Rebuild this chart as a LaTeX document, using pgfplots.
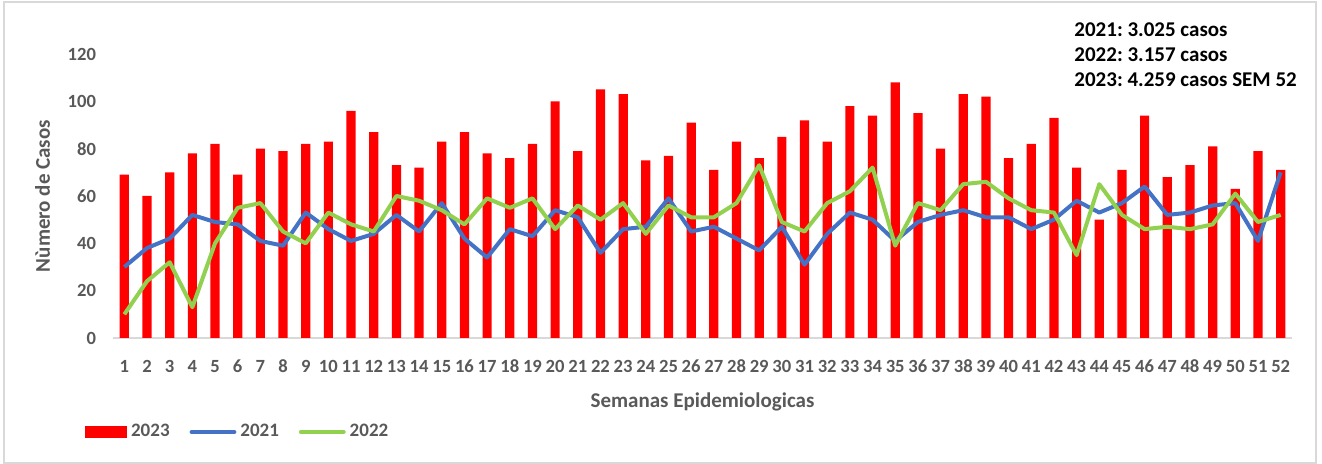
\documentclass[border=0pt]{standalone}
\usepackage{pgfplots}
\usepackage{pgfplotstable}
\pgfplotsset{compat=1.18}
\usepackage{fontspec}
\setmainfont{Carlito}
\frenchspacing
\definecolor{cRed}{HTML}{FF0000}
\definecolor{cBlue}{HTML}{4472C4}
\definecolor{cGreen}{HTML}{92D050}
\definecolor{cText}{HTML}{595959}
\definecolor{cAxis}{HTML}{D9D9D9}
\definecolor{cBorder}{HTML}{D9D9D9}

\pgfplotstableread{
w v
1 69
2 60
3 70
4 78
5 82
6 69
7 80
8 79
9 82
10 83
11 96
12 87
13 73
14 72
15 83
16 87
17 78
18 76
19 82
20 100
21 79
22 105
23 103
24 75
25 77
26 91
27 71
28 83
29 76
30 85
31 92
32 83
33 98
34 94
35 108
36 95
37 80
38 103
39 102
40 76
41 82
42 93
43 72
44 50
45 71
46 94
47 68
48 73
49 81
50 63
51 79
52 71
}\dataA

\pgfplotstableread{
w v
1 30
2 38
3 42
4 52
5 49
6 48
7 41
8 39
9 53
10 46
11 41
12 44
13 52
14 45
15 57
16 42
17 34
18 46
19 43
20 54
21 51
22 36
23 46
24 47
25 59
26 45
27 47
28 42
29 37
30 47
31 31
32 44
33 53
34 50
35 41
36 49
37 52
38 54
39 51
40 51
41 46
42 50
43 58
44 53
45 57
46 64
47 52
48 53
49 56
50 57
51 41
52 70
}\dataB

\pgfplotstableread{
w v
1 10
2 24
3 32
4 13
5 40
6 55
7 57
8 45
9 40
10 53
11 48
12 45
13 60
14 58
15 54
16 48
17 59
18 55
19 59
20 46
21 56
22 50
23 57
24 44
25 56
26 51
27 51
28 57
29 73
30 49
31 45
32 57
33 62
34 72
35 39
36 57
37 54
38 65
39 66
40 59
41 54
42 53
43 35
44 65
45 52
46 46
47 47
48 46
49 48
50 61
51 49
52 52
}\dataC

\begin{document}
\begin{tikzpicture}
\fill[white] (0,0) rectangle (661pt,232pt);
\draw[cBorder, line width=0.8pt] (2pt,0.5pt) rectangle (658pt,231pt);
\begin{axis}[
  at={(56.5pt,63pt)}, anchor=south west,
  scale only axis,
  width=589.5pt, height=142pt,
  xmin=0.5, xmax=52.5,
  ymin=0, ymax=120,
  xtick={1,...,52},
  ytick={0,20,...,120},
  axis x line*=bottom,
  axis y line*=left,
  x axis line style={cAxis, line width=0.8pt, -},
  y axis line style={draw=none},
  xtick style={draw=none},
  ytick style={draw=none},
  /pgf/number format/assume math mode=true,
  tick label style={font=\bfseries\fontsize{9.3}{11}\selectfont, text=cText},
  xticklabel style={yshift=-7.5pt},
  yticklabel style={xshift=-5pt},
  xlabel={Semanas Epidemiologicas},
  ylabel={Nùmero de Casos},
  label style={font=\bfseries\fontsize{10.5}{12}\selectfont, text=cText},
  xlabel style={yshift=-3pt},
  ylabel style={yshift=2pt},
  legend style={at={(-0.024,-0.331)}, anchor=west, legend columns=3,
    draw=none, fill=none, inner xsep=0pt, font=\bfseries\fontsize{9.5}{12}\selectfont, text=cText,
    /tikz/every even column/.append style={column sep=8pt}},
  legend cell align=left,
]
\addplot[ybar, bar width=4.6pt, fill=cRed, draw=none,
  legend image code/.code={\fill[cRed] (0pt,-3pt) rectangle (21pt,3pt);}]
  table[x=w,y=v]{\dataA};
\addlegendentry{2023}
\addplot[cBlue, line width=2pt, line join=round, mark=none,
  legend image code/.code={\draw[cBlue, line width=2.2pt, line cap=round] (0.8pt,0pt) -- (22pt,0pt);}]
  table[x=w,y=v]{\dataB};
\addlegendentry{2021}
\addplot[cGreen, line width=2pt, line join=round, mark=none,
  legend image code/.code={\draw[cGreen, line width=2.2pt, line cap=round] (0.8pt,0pt) -- (22pt,0pt);}]
  table[x=w,y=v]{\dataC};
\addlegendentry{2022}
\end{axis}
\node[anchor=north west, align=left, font=\bfseries\fontsize{10.5}{12.5}\selectfont, text=black, inner sep=0pt]
  at (537pt,221pt) {2021: 3.025 casos\\2022: 3.157 casos\\2023: 4.259 casos SEM 52};
\end{tikzpicture}
\end{document}
